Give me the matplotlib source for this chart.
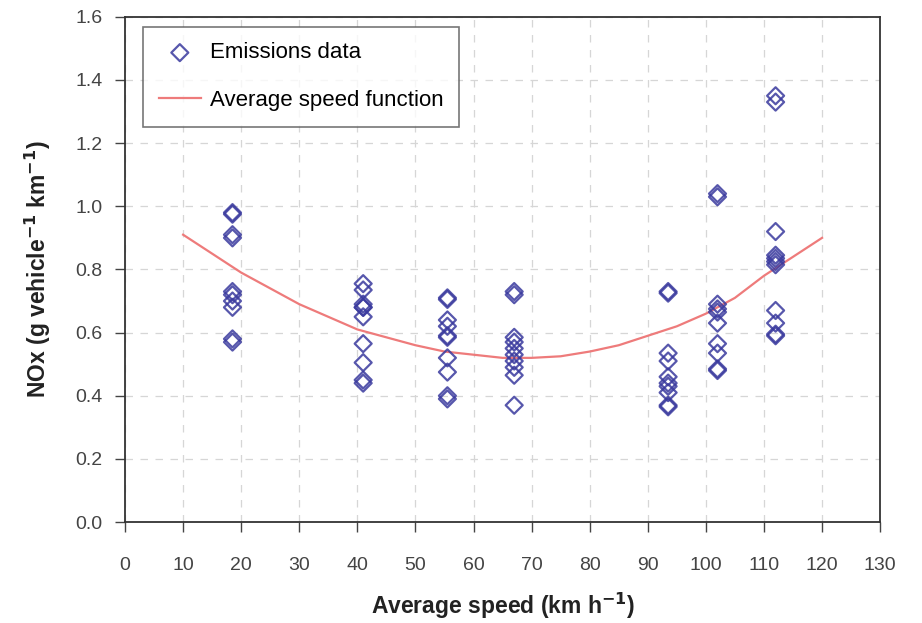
import matplotlib
matplotlib.use("Agg")
import matplotlib.pyplot as plt

plt.rcParams['font.family'] = ['Liberation Sans', 'DejaVu Sans']

# emissions data: average speed (km/h) and NOx (g/vehicle/km)
speed_18 = [18.5] * 10
nox_18 = [0.98, 0.975, 0.91, 0.90, 0.73, 0.72, 0.70, 0.68, 0.58, 0.57]
speed_41 = [41] * 10
nox_41 = [0.755, 0.735, 0.69, 0.68, 0.68, 0.65, 0.565, 0.505, 0.45, 0.44]
speed_55 = [55.5] * 10
nox_55 = [0.71, 0.705, 0.64, 0.62, 0.59, 0.585, 0.52, 0.475, 0.40, 0.39]
speed_67 = [67] * 10
nox_67 = [0.73, 0.72, 0.585, 0.57, 0.55, 0.53, 0.51, 0.49, 0.465, 0.37]
speed_93 = [93.5] * 10
nox_93 = [0.73, 0.725, 0.535, 0.51, 0.46, 0.44, 0.43, 0.41, 0.37, 0.365]
speed_102 = [102] * 10
nox_102 = [1.04, 1.03, 0.69, 0.675, 0.665, 0.63, 0.565, 0.535, 0.485, 0.48]
speed_112 = [112] * 11
nox_112 = [1.35, 1.33, 0.92, 0.845, 0.835, 0.825, 0.815, 0.67, 0.63, 0.595, 0.59]

# average speed function
curve_speed = [10, 15, 20, 25, 30, 35, 40, 45, 50, 55, 60, 65, 70, 75, 80, 85,
               90, 95, 100, 105, 110, 115, 120]
curve_nox = [0.91, 0.85, 0.79, 0.74, 0.69, 0.65, 0.61, 0.585, 0.56, 0.54, 0.53,
             0.52, 0.52, 0.525, 0.54, 0.56, 0.59, 0.62, 0.66, 0.71, 0.78, 0.84, 0.90]

x_ticks = list(range(0, 131, 10))
y_ticks = [0.0, 0.2, 0.4, 0.6, 0.8, 1.0, 1.2, 1.4, 1.6]

speed = speed_18 + speed_41 + speed_55 + speed_67 + speed_93 + speed_102 + speed_112
nox = nox_18 + nox_41 + nox_55 + nox_67 + nox_93 + nox_102 + nox_112

fig = plt.figure(figsize=(9.22, 6.23), dpi=100)
ax = fig.add_axes([0.1356, 0.162, 0.819, 0.811])

ax.scatter(speed, nox, marker='D', s=75, facecolors='none',
           edgecolors='#3a3a9e', linewidths=1.6, alpha=0.85,
           label='Emissions data', zorder=3)
ax.plot(curve_speed, curve_nox, color='#ee7b7b', lw=1.6,
        label='Average speed function', zorder=2)

ax.set_xlim(0, 130)
ax.set_ylim(0, 1.6)
ax.set_xticks(x_ticks)
ax.set_yticks(y_ticks)
ax.set_yticklabels([f'{v:.1f}' for v in y_ticks])
ax.tick_params(direction='out', length=7, width=1, colors='#444444',
               labelsize=14)
ax.tick_params(axis='y', pad=9)
ax.tick_params(axis='x', pad=18)

ax.grid(True, color='#d6d6d6', linestyle=(0, (6, 6)), linewidth=0.9)
ax.set_axisbelow(True)
for s in ax.spines.values():
    s.set_color('#333333')
    s.set_linewidth(1.3)

ax.set_xlabel('Average speed (km h$^{\\mathbf{-1}}$)', fontsize=16.5,
              fontweight='bold', color='#222222', labelpad=12)
ax.set_ylabel('NOx (g vehicle$^{\\mathbf{-1}}$ km$^{\\mathbf{-1}}$)', fontsize=16.5,
              fontweight='bold', color='#222222', labelpad=16)

leg = ax.legend(loc='upper left', bbox_to_anchor=(0.024, 0.980), fontsize=16,
                frameon=True, fancybox=False, edgecolor='#555555',
                borderpad=0.7, labelspacing=1.2, handlelength=1.9,
                handletextpad=0.4, borderaxespad=0)
leg.get_frame().set_linewidth(1.2)

fig.savefig('out.png', dpi=100)
